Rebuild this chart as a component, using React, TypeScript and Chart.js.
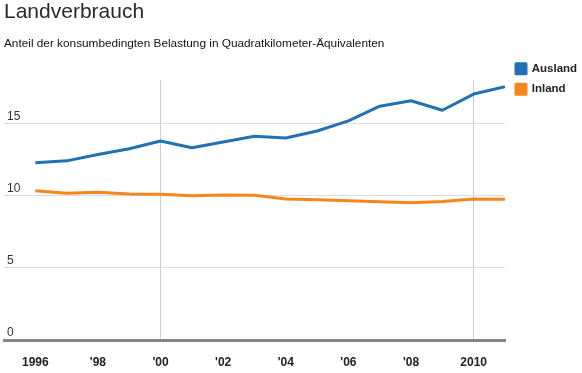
import React, { useEffect, useRef } from "react";
import { Chart, registerables } from "chart.js";

Chart.register(...registerables);

const years = [1996, 1997, 1998, 1999, 2000, 2001, 2002, 2003, 2004, 2005, 2006, 2007, 2008, 2009, 2010, 2011];
const ausland = [12.28, 12.42, 12.86, 13.26, 13.8, 13.33, 13.73, 14.12, 14.0, 14.49, 15.19, 16.21, 16.59, 15.93, 17.05, 17.56];
const inland = [10.35, 10.17, 10.24, 10.12, 10.1, 10.0, 10.05, 10.03, 9.77, 9.72, 9.65, 9.58, 9.51, 9.61, 9.77, 9.75];
const xTickValues = [1996, 1998, 2000, 2002, 2004, 2006, 2008, 2010];
const xTickLabels = ["1996", "'98", "'00", "'02", "'04", "'06", "'08", "2010"];
const xGridYears = [2000, 2010];
const yTickValues = [0, 5, 10, 15];

const FONT = "'Liberation Sans', Helvetica, Arial, sans-serif";
const BLUE = "#2271b3";
const ORANGE = "#f7861c";

export default function App() {
  const ref = useRef<HTMLCanvasElement | null>(null);

  useEffect(() => {
    document.body.style.margin = "0";
    const canvas = ref.current;
    if (!canvas) return;
    const chart = new Chart(canvas, {
      type: "line",
      data: {
        datasets: [
          {
            label: "Ausland",
            data: years.map((y, i) => ({ x: y, y: ausland[i] })),
            xAxisID: "x",
            yAxisID: "y",
            borderColor: BLUE,
            backgroundColor: BLUE,
            borderWidth: 3,
            pointRadius: 0,
            tension: 0,
            borderJoinStyle: "round",
          },
          {
            label: "Inland",
            data: years.map((y, i) => ({ x: y, y: inland[i] })),
            xAxisID: "x",
            yAxisID: "y",
            borderColor: ORANGE,
            backgroundColor: ORANGE,
            borderWidth: 3,
            pointRadius: 0,
            tension: 0,
            borderJoinStyle: "round",
          },
        ],
      },
      options: {
        responsive: false,
        animation: false,
        devicePixelRatio: 1,
        layout: { padding: { left: 4, right: 0, top: 0, bottom: 0 } },
        plugins: {
          title: {
            display: true,
            text: "Landverbrauch",
            align: "start",
            color: "#2a2a2a",
            font: { family: FONT, size: 21, weight: "normal" },
            padding: { top: 0, bottom: 6 },
          },
          subtitle: {
            display: true,
            text: "Anteil der konsumbedingten Belastung in Quadratkilometer-Äquivalenten",
            align: "start",
            color: "#111",
            font: { family: FONT, size: 11.8, weight: "normal" },
            padding: { top: 5, bottom: 2 },
          },
          legend: {
            display: true,
            position: "right",
            align: "start",
            maxWidth: 75,
            title: {
              display: true,
              text: "",
              font: { family: FONT, size: 10 },
              padding: { top: 0, bottom: 42 },
            },
            labels: {
              boxWidth: 10,
              boxHeight: 10,
              padding: 9,
              color: "#222",
              font: { family: FONT, size: 11.5, weight: "bold" },
            },
          },
          tooltip: { enabled: false },
        },
        scales: {
          x: {
            type: "linear",
            min: 1995,
            max: 2011,
            afterBuildTicks: (axis: any) => {
              axis.ticks = xTickValues.map((v) => ({ value: v }));
            },
            afterFit: (scale: any) => {
              scale.height = 33;
            },
            ticks: {
              padding: 15,
              color: "#222",
              font: { family: FONT, size: 12, weight: "bold" },
              maxRotation: 0,
              autoSkip: false,
              callback: (value: any) => {
                const i = xTickValues.indexOf(Number(value));
                return i >= 0 ? xTickLabels[i] : "";
              },
            },
            grid: {
              drawTicks: false,
              lineWidth: 1,
              color: (ctx: any) =>
                ctx.tick && xGridYears.includes(ctx.tick.value) ? "#cccccc" : "rgba(0,0,0,0)",
            },
            border: { display: true, color: "#858585", width: 3 },
          },
          xTop: {
            type: "linear",
            position: "top",
            display: true,
            grid: { display: false, drawTicks: false },
            ticks: { display: false },
            border: { display: false },
            afterFit: (scale: any) => {
              scale.height = 28;
            },
          },
          yRight: {
            type: "linear",
            position: "right",
            display: true,
            grid: { display: false, drawTicks: false },
            ticks: { display: false },
            border: { display: false },
            afterFit: (scale: any) => {
              scale.width = 2;
            },
          },
          y: {
            type: "linear",
            position: "left",
            min: 0,
            max: 18,
            afterBuildTicks: (axis: any) => {
              axis.ticks = yTickValues.map((v) => ({ value: v }));
            },
            afterFit: (scale: any) => {
              scale.width = 0;
            },
            ticks: {
              mirror: true,
              padding: 3,
              labelOffset: -7,
              color: "#333",
              font: { family: FONT, size: 12, weight: "normal" },
            },
            grid: {
              drawTicks: false,
              color: (ctx: any) => (ctx.tick && ctx.tick.value === 0 ? "rgba(0,0,0,0)" : "#dddddd"),
            },
            border: { display: false },
          },
        },
      },
    });
    return () => chart.destroy();
  }, []);

  return (
    <div style={{ position: "absolute", left: 0, top: 0, width: 582, height: 373 }}>
      <canvas ref={ref} width={582} height={373} />
    </div>
  );
}
